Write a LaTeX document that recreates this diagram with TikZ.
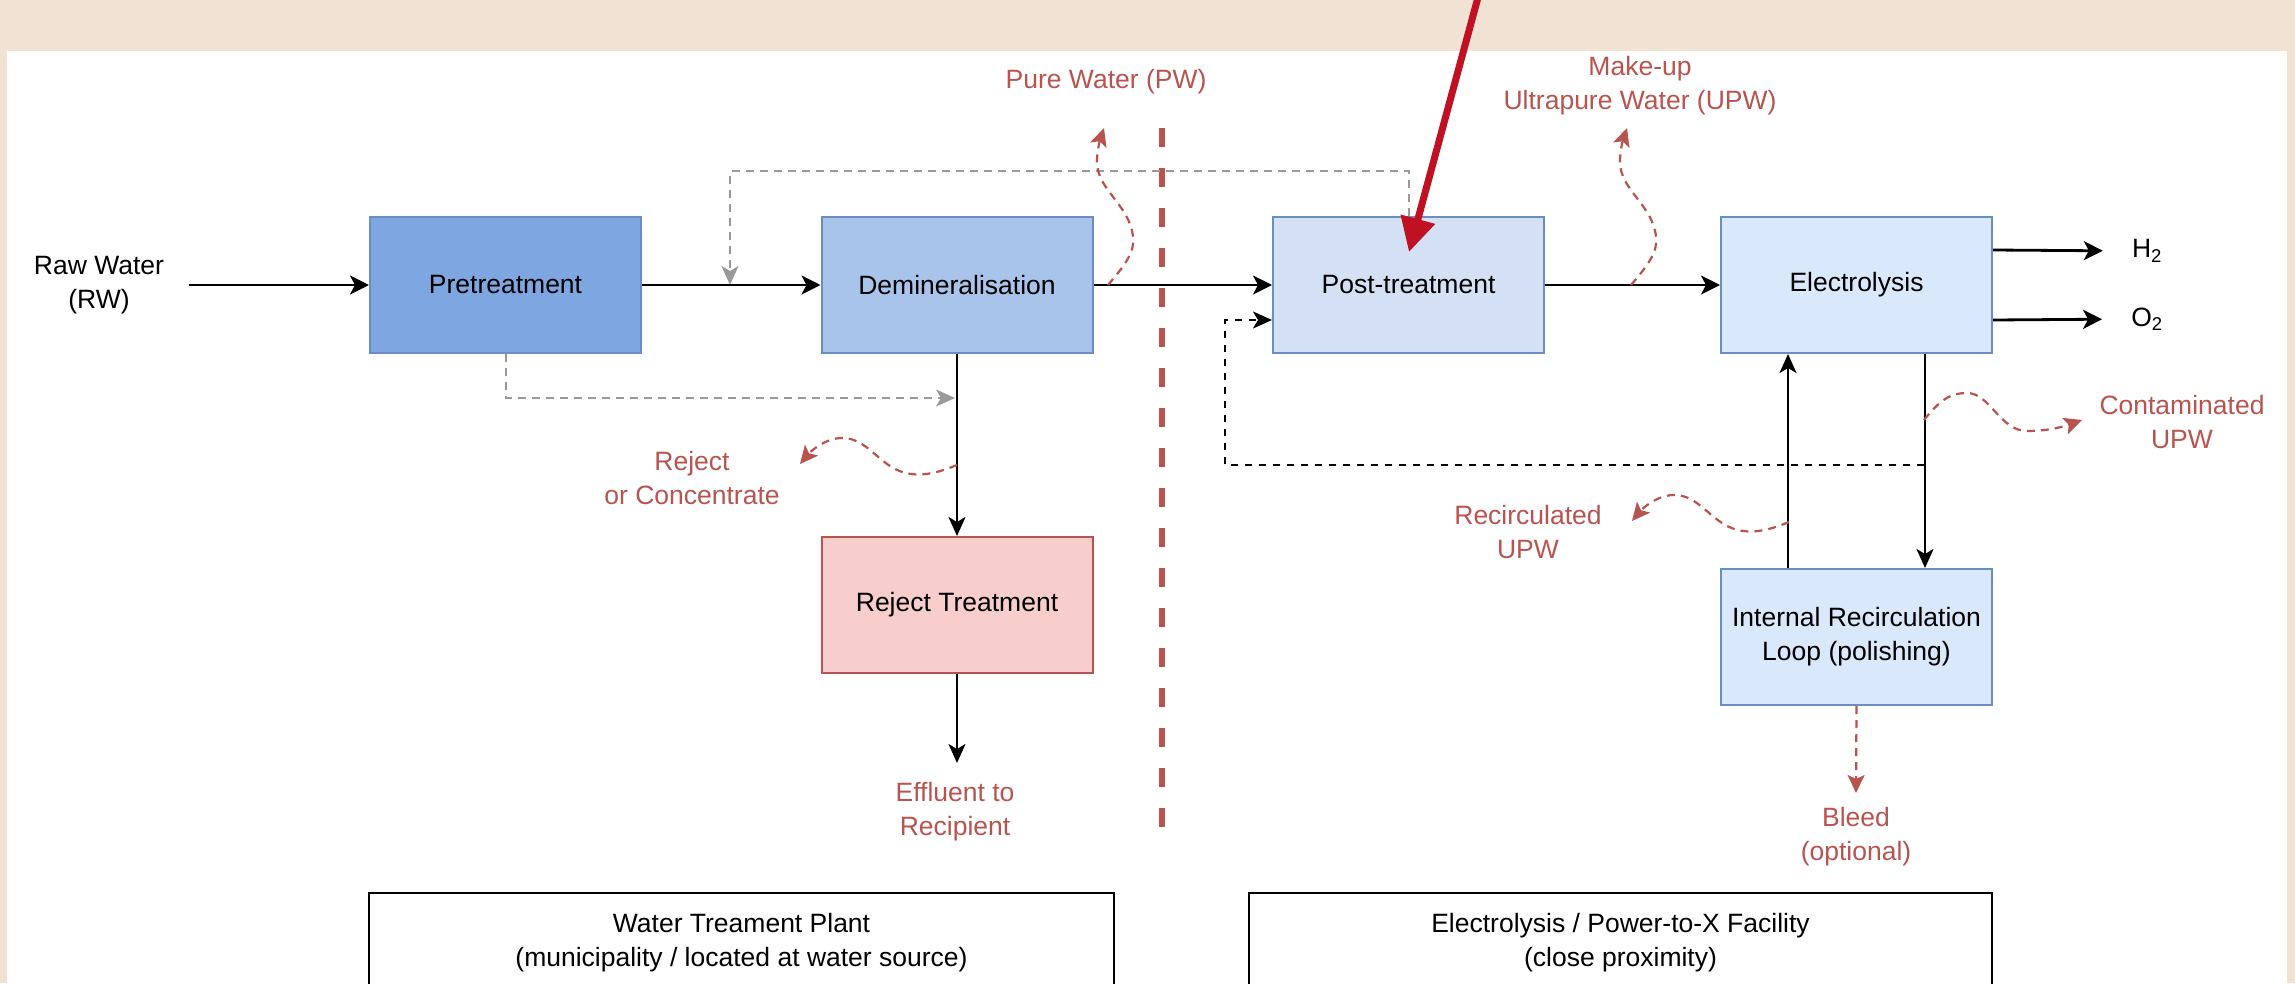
\documentclass[tikz,border=0pt]{standalone}
\usepackage{fontspec}
\setmainfont{Liberation Sans}
\usetikzlibrary{arrows.meta}
\definecolor{bg}{HTML}{F2E2D4}
\definecolor{bluedk}{HTML}{7EA6E0}
\definecolor{bluemd}{HTML}{A9C4EB}
\definecolor{bluelt}{HTML}{D4E1F5}
\definecolor{bluexl}{HTML}{DAE8FC}
\definecolor{blueline}{HTML}{6C8EBF}
\definecolor{redfill}{HTML}{F8CECC}
\definecolor{redline}{HTML}{B85450}
\definecolor{grayline}{HTML}{999999}
\definecolor{crimson}{RGB}{192,16,36}
\begin{document}
\begin{tikzpicture}[x=1pt,y=-1pt,
  every node/.style={font=\fontsize{26.5}{34}\selectfont},
  proc/.style={draw=blueline, line width=2pt, minimum width=271pt, minimum height=136pt, inner sep=0pt, align=center},
  lbl/.style={align=center, inner sep=0pt},
  rlbl/.style={lbl, text=redline},
  zone/.style={draw=black, line width=2.5pt, fill=white, minimum height=100pt, inner sep=0pt, align=center},
  flow/.style={line width=2.8pt, -{Stealth[length=19pt,width=19pt,inset=5pt]}},
  flowthin/.style={line width=2pt, -{Stealth[length=19pt,width=17pt,inset=5pt]}},
  graydash/.style={draw=grayline, line width=2pt, dash pattern=on 8pt off 6pt, -{Stealth[length=19pt,width=17pt,inset=5pt]}},
  blkdash/.style={line width=2.2pt, dash pattern=on 7pt off 7pt, -{Stealth[length=19pt,width=17pt,inset=5pt]}},
  reddash/.style={draw=redline, line width=2.2pt, dash pattern=on 8pt off 6pt, -{Stealth[length=18pt,width=17pt,inset=4pt]}},
  divider/.style={draw=redline, line width=5.5pt, dash pattern=on 19pt off 21pt},
  bigarrow/.style={draw=crimson, line width=7pt, -{Triangle[length=34pt,width=34pt]}}
]
\useasboundingbox (0,0) rectangle (2295,983);
\fill[bg] (0,0) rectangle (2295,983);
\fill[white] (7,51) rectangle (2287,983);

% coordinates for free ends
\coordinate (divtop) at (1162,128);
\coordinate (divbot) at (1162,827);
\coordinate (g1) at (730,285);
\coordinate (g2) at (955,398);
\coordinate (d1) at (1924,465);
\coordinate (effend) at (957,763);
\coordinate (bleedend) at (1856,793);
\coordinate (pw0) at (1108,285);
\coordinate (pw1) at (1104,128);
\coordinate (mu0) at (1631,285);
\coordinate (mu1) at (1627,128);
\coordinate (rc0) at (957,465);
\coordinate (rc1) at (800,464);
\coordinate (ru0) at (1789,522);
\coordinate (ru1) at (1632,521);
\coordinate (cu0) at (1924,420);
\coordinate (cu1) at (2082,420);
\coordinate (bigstart) at (1480,-10);
\coordinate (bigtip) at (1409,252);

\draw[divider] (divtop) -- (divbot);

% boxes
\node[proc, fill=bluedk] (pre) at (505.5,285) {Pretreatment};
\node[proc, fill=bluemd] (demin) at (957,285) {Demineralisation};
\node[proc, fill=bluelt] (post) at (1408.5,285) {Post-treatment};
\node[proc, fill=bluexl] (elec) at (1856.5,285) {Electrolysis};
\node[proc, fill=bluexl] (loop) at (1856.5,637) {Internal Recirculation\\Loop (polishing)};
\node[proc, fill=redfill, draw=redline] (rej) at (957,605) {Reject Treatment};

% labels
\node[lbl] (rw) at (99,285) {Raw Water\\(RW)};
\node[lbl] (h2) at (2147,251) {H\textsubscript{2}};
\node[lbl] (o2) at (2147,319) {O\textsubscript{2}};
\node[rlbl] (pw) at (1106,82) {Pure Water (PW)};
\node[rlbl] (mu) at (1640,86) {Make-up\\Ultrapure Water (UPW)};
\node[rlbl] (rc) at (692,478) {Reject\\or Concentrate};
\node[rlbl] (eff) at (955,812) {Effluent to\\Recipient};
\node[rlbl] (cu) at (2182,422) {Contaminated\\UPW};
\node[rlbl] (ru) at (1528,532) {Recirculated\\UPW};
\node[rlbl] (bl) at (1856,837) {Bleed\\(optional)};

\node[zone, minimum width=745pt] (wtp) at (741.5,943) {Water Treament Plant\\(municipality / located at water source)};
\node[zone, minimum width=743pt] (ptx) at (1620.5,943) {Electrolysis / Power-to-X Facility\\(close proximity)};

% gray dashed bypasses
\draw[graydash] (post.north) -- ++(0,-45) -| (g1);
\draw[graydash] (pre.south) |- (g2);

% black dashed recirculation
\draw[blkdash] (d1) -- ++(-699,0) |- ([yshift=34pt]post.south west);

% main flows
\draw[flow, shorten <=25pt] (rw.east) -- (pre.west);
\draw[flow] (pre) -- (demin);
\draw[flow] (demin) -- (post);
\draw[flow] (post) -- (elec);
\draw[flow, shorten >=29pt] ([yshift=-34pt]elec.north east) -- (h2.west);
\draw[flow, shorten >=29pt] ([yshift=34pt]elec.south east) -- (o2.west);
\draw[flowthin] (demin) -- (rej);
\draw[flowthin] (rej) -- (effend);
\draw[flowthin] ([xshift=68pt]loop.north west) -- ([xshift=68pt]elec.south west);
\draw[flowthin] ([xshift=-68pt]elec.south east) -- ([xshift=-68pt]loop.north east);

% red curvy streams
\draw[reddash] (pw0) .. controls (1125,265) and (1135,252) .. (1133,237)
  .. controls (1130,205) and (1097,190) .. (1097,162)
  .. controls (1097,150) and (1100,140) .. (pw1);
\draw[reddash] (mu0) .. controls (1648,265) and (1658,252) .. (1656,237)
  .. controls (1653,205) and (1620,190) .. (1620,162)
  .. controls (1620,150) and (1623,140) .. (mu1);
\draw[reddash] (rc0) .. controls (940,472) and (925,476) .. (911,474)
  .. controls (880,470) and (870,438) .. (842,438)
  .. controls (825,438) and (810,452) .. (rc1);
\draw[reddash] (ru0) .. controls (1772,529) and (1757,533) .. (1743,531)
  .. controls (1712,527) and (1702,495) .. (1674,495)
  .. controls (1657,495) and (1642,509) .. (ru1);
\draw[reddash] (cu0) .. controls (1940,400) and (1950,393) .. (1967,393)
  .. controls (1990,393) and (2000,431) .. (2027,431)
  .. controls (2050,431) and (2065,426) .. (cu1);
\draw[reddash] (loop.south) -- (bleedend);

% highlight arrow
\draw[bigarrow] (bigstart) -- (bigtip);
\end{tikzpicture}
\end{document}
